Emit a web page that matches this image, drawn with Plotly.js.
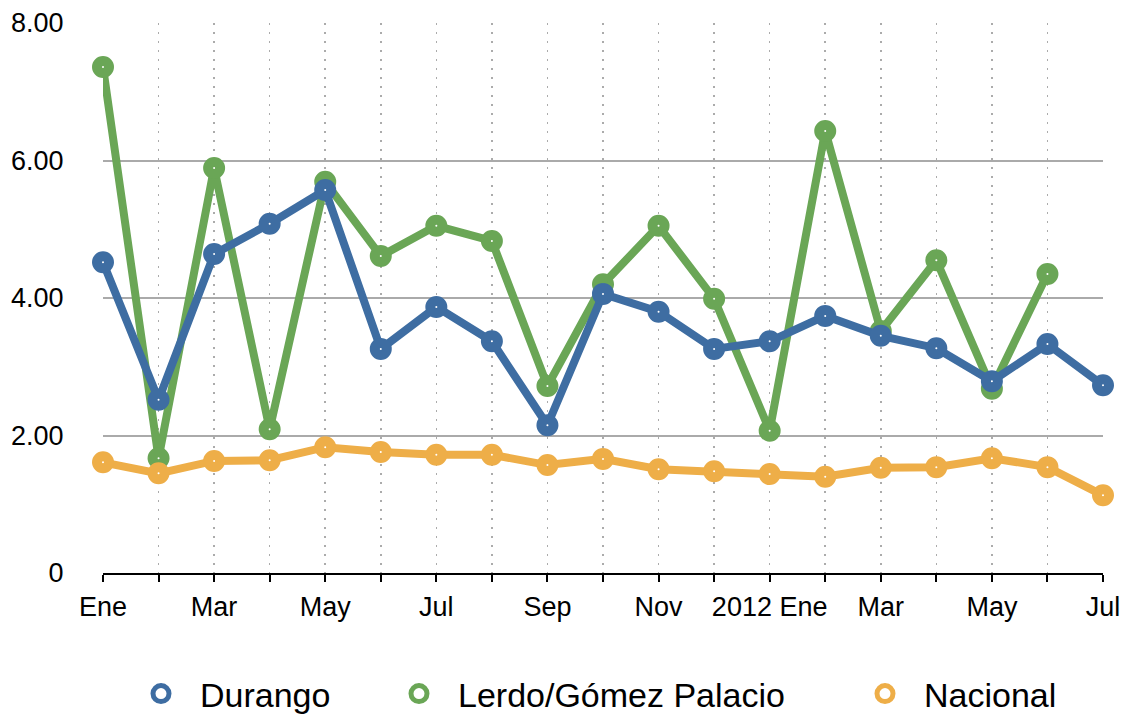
<!DOCTYPE html>
<html>
<head>
<meta charset="utf-8">
<script src="https://cdn.plot.ly/plotly-3.0.1.min.js"></script>
<style>html,body{margin:0;padding:0;background:#fff;}#chart{width:1127px;height:717px;}</style>
</head>
<body>
<div id="chart"></div>
<script>
const categories = ["2011-01","2011-02","2011-03","2011-04","2011-05","2011-06","2011-07","2011-08","2011-09","2011-10","2011-11","2011-12","2012-01","2012-02","2012-03","2012-04","2012-05","2012-06","2012-07"];
const tickLabels = ["Ene","","Mar","","May","","Jul","","Sep","","Nov","","2012 Ene","","Mar","","May","","Jul"];
const durango = [4.52,2.52,4.64,5.08,5.57,3.26,3.87,3.37,2.15,4.06,3.80,3.26,3.37,3.74,3.45,3.27,2.79,3.33,2.73];
const lerdo = [7.36,1.67,5.89,2.09,5.69,4.61,5.05,4.83,2.72,4.20,5.05,3.99,2.07,6.43,3.52,4.55,2.68,4.35,null];
const nacional = [1.61,1.45,1.63,1.64,1.83,1.76,1.72,1.72,1.57,1.66,1.51,1.48,1.44,1.40,1.53,1.54,1.67,1.54,1.13];
const yTicks = [0,2,4,6,8];
const yTickText = ["0","2.00","4.00","6.00","8.00"];

function mk(name, y, color){
  return {
    type:'scatter', mode:'lines+markers', name:name, x:categories, y:y,
    line:{color:color, width:8},
    marker:{symbol:'circle', size:12, color:'#ffffff', line:{color:color, width:10}},
    cliponaxis:false, connectgaps:false, showlegend:false
  };
}
function legItem(name, color, leg){
  return {
    type:'scatter', mode:'markers', name:name, x:[null], y:[null],
    marker:{symbol:'circle', size:16, color:'#ffffff', line:{color:color, width:8}},
    showlegend:true, legend:leg
  };
}
// drawing order: green first, then orange, then blue on top
const traces = [
  mk('Lerdo/Gómez Palacio', lerdo, '#6aa656'),
  mk('Nacional', nacional, '#eeae48'),
  mk('Durango', durango, '#3e6da2'),
  legItem('Durango', '#3e6da2', 'legend'),
  legItem('Lerdo/Gómez Palacio', '#6aa656', 'legend2'),
  legItem('Nacional', '#eeae48', 'legend3')
];
function leg(markerX){
  return {orientation:'h', xref:'container', yref:'container',
          x:(markerX-41)/1127, xanchor:'left', y:23/717, yanchor:'middle',
          font:{size:34}, itemwidth:68, bgcolor:'rgba(0,0,0,0)'};
}
const layout = {
  width:1127, height:717,
  margin:{l:103, r:24, t:23, b:144},
  paper_bgcolor:'#ffffff', plot_bgcolor:'#ffffff',
  font:{family:'Liberation Sans, Arial, sans-serif', color:'#000'},
  showlegend:true,
  legend:leg(163), legend2:leg(421), legend3:leg(887),
  xaxis:{type:'category', categoryorder:'array', categoryarray:categories,
         range:[0,18], tickvals:categories, ticktext:tickLabels,
         showgrid:true, gridcolor:'#ababab', gridwidth:1.5, griddash:'2px,7px',
         showline:true, linecolor:'#000', linewidth:2,
         ticks:'outside', ticklen:7, tickwidth:2, tickcolor:'#000',
         tickfont:{size:27}, ticklabelstandoff:2, zeroline:false, fixedrange:true},
  yaxis:{range:[0,8], tickvals:yTicks, ticktext:yTickText,
         showgrid:true, gridcolor:'#aaaaaa', gridwidth:2,
         showline:false, zeroline:false,
         ticks:'outside', ticklen:33, tickcolor:'rgba(0,0,0,0)',
         tickfont:{size:27}, fixedrange:true}
};
Plotly.newPlot('chart', traces, layout, {displayModeBar:false, staticPlot:true});
</script>
</body>
</html>
